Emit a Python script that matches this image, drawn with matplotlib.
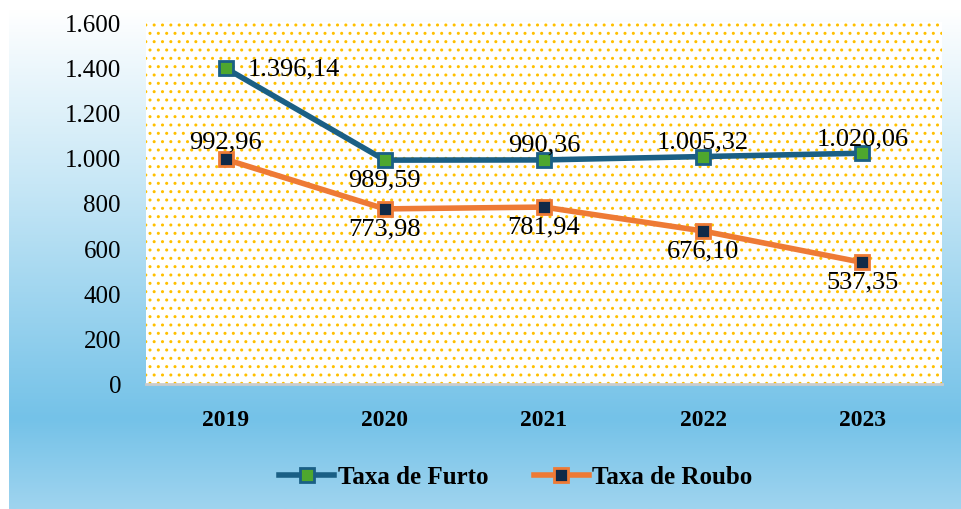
import numpy as np
import matplotlib
matplotlib.use("Agg")
import matplotlib.pyplot as plt
from matplotlib.patches import Rectangle
from matplotlib.colors import LinearSegmentedColormap
from matplotlib.ticker import FuncFormatter

years = ["2019", "2020", "2021", "2022", "2023"]
furto = [1396.14, 989.59, 990.36, 1005.32, 1020.06]
roubo = [992.96, 773.98, 781.94, 676.10, 537.35]
furto_labels = ["1.396,14", "989,59", "990,36", "1.005,32", "1.020,06"]
roubo_labels = ["992,96", "773,98", "781,94", "676,10", "537,35"]
y_ticks = [0, 200, 400, 600, 800, 1000, 1200, 1400, 1600]

plt.rcParams['font.family'] = ['Liberation Serif', 'DejaVu Serif']
plt.rcParams['hatch.linewidth'] = 1.0

W, H = 961, 510
fig = plt.figure(figsize=(W / 100, H / 100), dpi=100)
fig.patch.set_facecolor('white')

# background gradient panel
bg = fig.add_axes([9 / W, 0, (W - 9) / W, (H - 10) / H])
bg.set_axis_off()
cmap = LinearSegmentedColormap.from_list(
    'g', [(0, '#FFFFFF'), (0.35, '#C7E7F6'), (0.82, '#74C2E8'), (1.0, '#9FD4EF')])
grad = np.linspace(0, 1, 256).reshape(-1, 1)
bg.imshow(grad, aspect='auto', cmap=cmap, extent=[0, 1, 0, 1], origin='upper')
bg.set_zorder(0)

x0, x1 = 146, 942
y_top, y_bot = 23, 385
ax = fig.add_axes([x0 / W, 1 - y_bot / H, (x1 - x0) / W, (y_bot - y_top) / H])
ax.set_zorder(1)
ax.patch.set_alpha(0)
ax.add_patch(Rectangle((0, 0), 1, 1, transform=ax.transAxes, facecolor='white',
                       edgecolor='#FFC000', lw=0, hatch='..', zorder=0))

x = np.arange(len(years))
ax.plot(x, furto, color='#1A5F85', lw=4, marker='s', ms=10.5,
        markerfacecolor='#4EA72E', markeredgecolor='#1A5F85', mew=2,
        solid_joinstyle='round', label='Taxa de Furto', zorder=3)
ax.plot(x, roubo, color='#EE7A35', lw=4, marker='s', ms=10.5,
        markerfacecolor='#102A48', markeredgecolor='#EE7A35', mew=2,
        solid_joinstyle='round', label='Taxa de Roubo', zorder=3)

ax.set_xlim(-0.5, len(years) - 0.5)
ax.set_ylim(0, 1600)
ax.set_yticks(y_ticks)
ax.yaxis.set_major_formatter(FuncFormatter(lambda v, p: f"{int(v):,}".replace(",", ".")))
ax.set_xticks(x)
ax.set_xticklabels(years, fontweight='bold')
ax.tick_params(axis='y', length=0, labelsize=18, pad=18)
ax.tick_params(axis='x', length=0, labelsize=17, pad=18)
for s in ['top', 'left', 'right']:
    ax.spines[s].set_visible(False)
ax.spines['bottom'].set_color('#CCCCCC')
ax.spines['bottom'].set_linewidth(2)

fs = 19
for i, (v, lab) in enumerate(zip(furto, furto_labels)):
    if i == 0:
        ax.annotate(lab, (i, v), xytext=(16, 0), textcoords='offset points',
                    ha='left', va='center', fontsize=fs, zorder=4)
    elif i == 1:
        ax.annotate(lab, (i, v), xytext=(0, -6), textcoords='offset points',
                    ha='center', va='top', fontsize=fs, zorder=4)
    else:
        ax.annotate(lab, (i, v), xytext=(0, 3), textcoords='offset points',
                    ha='center', va='bottom', fontsize=fs, zorder=4)
for i, (v, lab) in enumerate(zip(roubo, roubo_labels)):
    if i == 0:
        ax.annotate(lab, (i, v), xytext=(0, 5), textcoords='offset points',
                    ha='center', va='bottom', fontsize=fs, zorder=4)
    else:
        ax.annotate(lab, (i, v), xytext=(0, -6), textcoords='offset points',
                    ha='center', va='top', fontsize=fs, zorder=4)

leg = fig.legend(loc='center', bbox_to_anchor=(516 / W, 1 - 478 / H), ncol=2,
                 frameon=False, prop={'weight': 'bold', 'size': 18},
                 handlelength=2.2, columnspacing=1.8, handletextpad=0.15)

fig.savefig('out.png', dpi=100)
